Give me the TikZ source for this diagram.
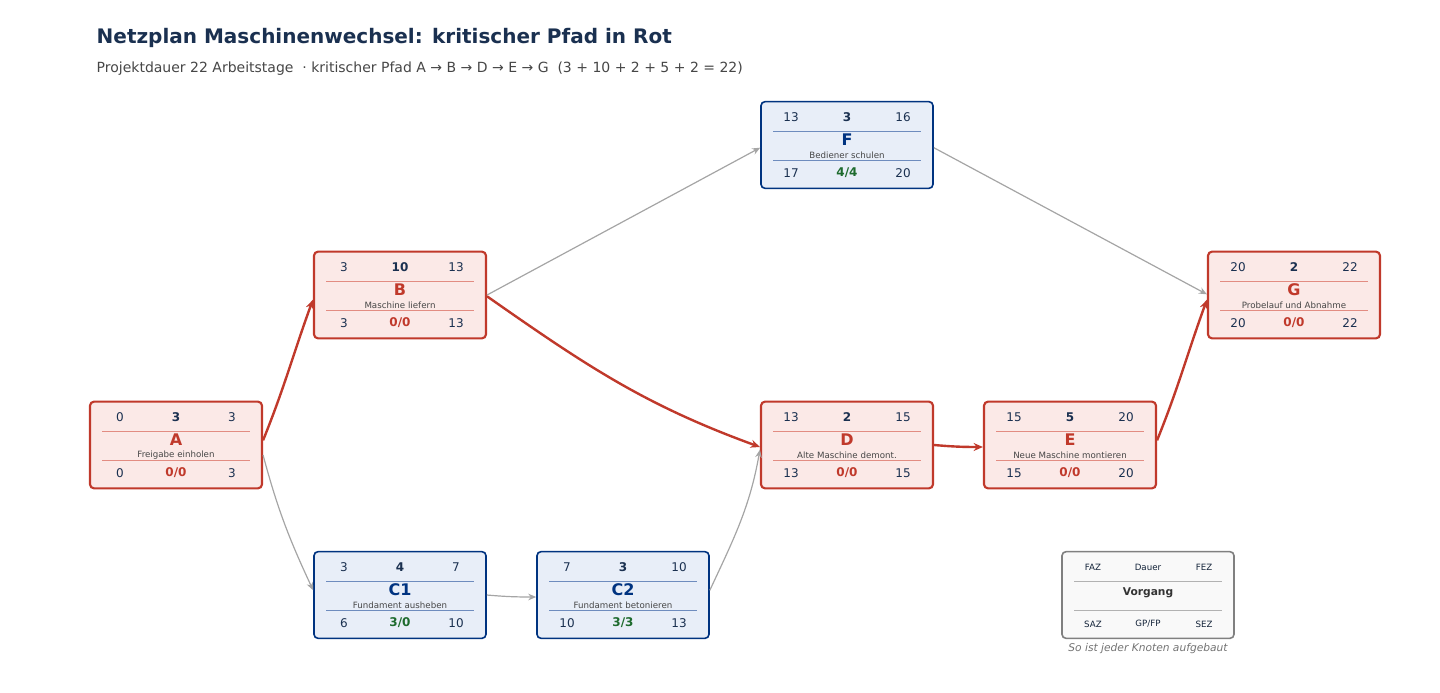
\documentclass[tikz,border=0pt]{standalone}
\usepackage{fontspec}
\setmainfont{DejaVu Sans}
\usetikzlibrary{arrows.meta}
\definecolor{crit}{RGB}{192,57,43}
\definecolor{critfill}{RGB}{251,233,231}
\definecolor{critline}{RGB}{226,140,130}
\definecolor{nb}{RGB}{0,51,128}
\definecolor{nbfill}{RGB}{232,238,248}
\definecolor{nbline}{RGB}{110,140,190}
\definecolor{dk}{RGB}{26,48,80}
\definecolor{gr}{RGB}{30,107,46}
\definecolor{sub}{RGB}{70,70,70}
\definecolor{edge}{RGB}{165,165,165}
\tikzset{
 box/.style={draw, rounded corners=3pt, minimum width=129pt, minimum height=65pt, inner sep=0},
 crbox/.style={box, draw=crit, fill=critfill, line width=1.6pt},
 nbox/.style={box, draw=nb, fill=nbfill, line width=1.2pt},
 lbox/.style={box, draw=gray, fill=gray!5, line width=1.2pt},
 num/.style={font=\fontsize{9}{10}\selectfont, text=dk},
 desc/.style={font=\fontsize{6.5}{7}\selectfont, text=sub},
 critedge/.style={draw=crit, line width=1.8pt, -{Stealth[length=7pt,width=6pt]}},
 nedge/.style={draw=edge, line width=0.9pt, -{Stealth[length=6pt,width=5pt]}}
}
% #1 name #2 x #3 y #4 boxstyle #5 linecol #6 namecol #7 faz #8 d #9 fez
\newcommand\pnodeA[9]{%
 \node[#4] (#1) at (#2,#3) {};
 \draw[#5, line width=0.5pt] ($(#2,#3)+(-74,-14)$) -- ($(#2,#3)+(74,-14)$);
 \draw[#5, line width=0.5pt] ($(#2,#3)+(-74,15)$) -- ($(#2,#3)+(74,15)$);
 \node[num] at ($(#2,#3)+(-56,-28)$) {#7};
 \node[num,font=\fontsize{9}{10}\selectfont\bfseries] at ($(#2,#3)+(0,-28)$) {#8};
 \node[num] at ($(#2,#3)+(56,-28)$) {#9};
 \def\curx{#2}\def\cury{#3}\def\curcol{#6}}
% #1 label #2 desc #3 saz #4 gp #5 sez #6 gpcol
\newcommand\pnodeB[6]{%
 \node[text=\curcol, font=\fontsize{12}{13}\selectfont\bfseries] at ($(\curx,\cury)+(0,-5)$) {#1};
 \node[desc] at ($(\curx,\cury)+(0,10)$) {#2};
 \node[num] at ($(\curx,\cury)+(-56,28)$) {#3};
 \node[num,text=#6,font=\fontsize{9}{10}\selectfont\bfseries] at ($(\curx,\cury)+(0,28)$) {#4};
 \node[num] at ($(\curx,\cury)+(56,28)$) {#5};}
\usetikzlibrary{calc}
\begin{document}
\begin{tikzpicture}[x=0.75pt,y=-0.75pt]
\useasboundingbox (0,0) rectangle (1440,693);
\node[anchor=west, text=dk, font=\fontsize{15}{17}\selectfont\bfseries] (title) at (92,38) {Netzplan Maschinenwechsel: kritischer Pfad in Rot};
\node[anchor=west, text=sub, font=\fontsize{10.5}{12}\selectfont] (subt) at (92,69) {Projektdauer 22 Arbeitstage \ ·\ kritischer Pfad A → B → D → E → G \ (3 + 10 + 2 + 5 + 2 = 22)};

\pnodeA{A}{176}{445}{crbox}{critline}{crit}{0}{3}{3}\pnodeB{A}{Freigabe einholen}{0}{0/0}{3}{crit}
\pnodeA{B}{400}{295}{crbox}{critline}{crit}{3}{10}{13}\pnodeB{B}{Maschine liefern}{3}{0/0}{13}{crit}
\pnodeA{C1}{400}{595}{nbox}{nbline}{nb}{3}{4}{7}\pnodeB{C1}{Fundament ausheben}{6}{3/0}{10}{gr}
\pnodeA{C2}{623}{595}{nbox}{nbline}{nb}{7}{3}{10}\pnodeB{C2}{Fundament betonieren}{10}{3/3}{13}{gr}
\pnodeA{D}{847}{445}{crbox}{critline}{crit}{13}{2}{15}\pnodeB{D}{Alte Maschine demont.}{13}{0/0}{15}{crit}
\pnodeA{E}{1070}{445}{crbox}{critline}{crit}{15}{5}{20}\pnodeB{E}{Neue Maschine montieren}{15}{0/0}{20}{crit}
\pnodeA{F}{847}{145}{nbox}{nbline}{nb}{13}{3}{16}\pnodeB{F}{Bediener schulen}{17}{4/4}{20}{gr}
\pnodeA{G}{1294}{295}{crbox}{critline}{crit}{20}{2}{22}\pnodeB{G}{Probelauf und Abnahme}{20}{0/0}{22}{crit}

% legend
\node[lbox] (L) at (1148,595) {};
\draw[gray!60, line width=0.5pt] (1074,581) -- (1222,581);
\draw[gray!60, line width=0.5pt] (1074,610) -- (1222,610);
\node[desc,text=dk!70!black] (l1) at (1093,567) {FAZ};
\node[desc,text=dk!70!black] (l2) at (1148,567) {Dauer};
\node[desc,text=dk!70!black] (l3) at (1204,567) {FEZ};
\node[font=\fontsize{8}{9}\selectfont\bfseries, text=black!80] (l4) at (1148,593) {Vorgang};
\node[desc,text=dk!70!black] (l5) at (1093,624) {SAZ};
\node[desc,text=dk!70!black] (l6) at (1148,624) {GP/FP};
\node[desc,text=dk!70!black] (l7) at (1204,624) {SEZ};
\node[font=\fontsize{8}{9}\selectfont\itshape, text=gray!90!black] (lc) at (1148,649) {So ist jeder Knoten aufgebaut};

% edges
\draw[nedge] ([yshift=-7.5pt]A.east) to[out=-75,in=115] ([yshift=3.5pt]C1.west);
\draw[nedge] (C1.east) to[out=-5,in=180] ([yshift=-1.5pt]C2.west);
\draw[nedge] ([yshift=3.5pt]C2.east) to[out=65,in=-100] ([yshift=-3.5pt]D.west);
\draw[nedge] (B.east) to[out=-25,in=-145,looseness=0] ([yshift=-2pt]F.west) ;
\draw[nedge] ([yshift=-2pt]F.east) to[out=-35,in=155,looseness=0] ([yshift=0.5pt]G.west);
\draw[critedge] ([yshift=3.5pt]A.east) to[out=68,in=-110] ([yshift=-3.5pt]B.west);
\draw[critedge] ([yshift=-1pt]B.east) to[out=-35,in=160] ([yshift=-1.5pt]D.west);
\draw[critedge] (D.east) to[out=-5,in=180] ([yshift=-1.5pt]E.west);
\draw[critedge] ([yshift=3.5pt]E.east) to[out=68,in=-110] ([yshift=-3.5pt]G.west);
\end{tikzpicture}
\end{document}
